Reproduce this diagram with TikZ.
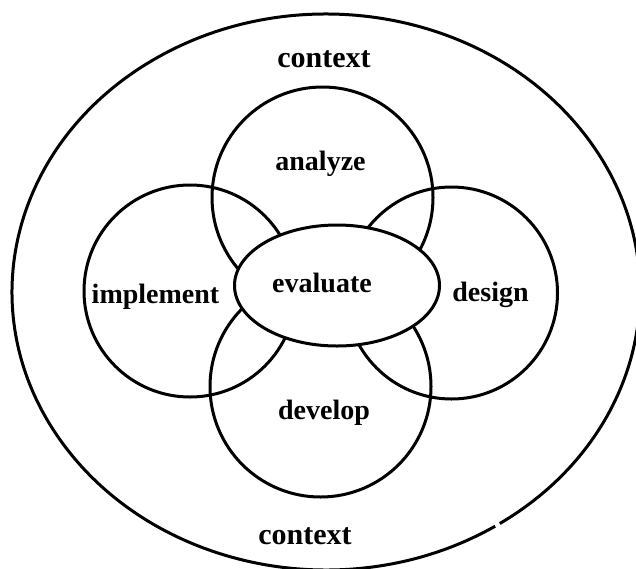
\documentclass[tikz,border=0pt]{standalone}
\usepackage{fontspec}
\setmainfont{Liberation Serif}
\usetikzlibrary{shapes.geometric}
\begin{document}
\begin{tikzpicture}[x=1pt,y=-1pt,
  stroke/.style={draw=black,line width=3pt},
  ring/.style={stroke,circle,inner sep=0pt,minimum size=#1},
  lbl/.style={anchor=base,inner sep=0pt,font=\fontsize{28}{32}\selectfont\bfseries},
  biglbl/.style={lbl,font=\fontsize{30}{34}\selectfont\bfseries}]
\path[fill=white,use as bounding box] (0,0) rectangle (636,568);

% outer context ellipse, with its small break at lower right
\coordinate (ctx) at (326,292);
\draw[stroke,shift={(ctx)}] (-56.4:314pt and 278pt)
  arc[start angle=-56.4,end angle=302.6,x radius=314pt,y radius=278pt];

% the four phase circles
\node[ring=221pt] (analyze) at (322.5,197.5) {};
\node[ring=212pt] (implement) at (190,291) {};
\node[ring=212pt] (design) at (451.5,293) {};
\node[ring=221pt] (develop) at (320.5,386.5) {};

% central ellipse covers the inner arcs
\node[stroke,ellipse,fill=white,inner sep=0pt,
      minimum width=205pt,minimum height=121pt] (evaluate) at (337,285.5) {};

% labels
\node[biglbl] (ctxtop) at (324,67) {context};
\node[biglbl] (ctxbot) at (305,544) {context};
\node[lbl] (tanalyze) at (320.5,170) {analyze};
\node[lbl] (timplement) at (155.5,303) {implement};
\node[lbl] (tevaluate) at (322,292) {evaluate};
\node[lbl] (tdesign) at (490.5,301) {design};
\node[lbl] (tdevelop) at (324,419.5) {develop};
\end{tikzpicture}
\end{document}
